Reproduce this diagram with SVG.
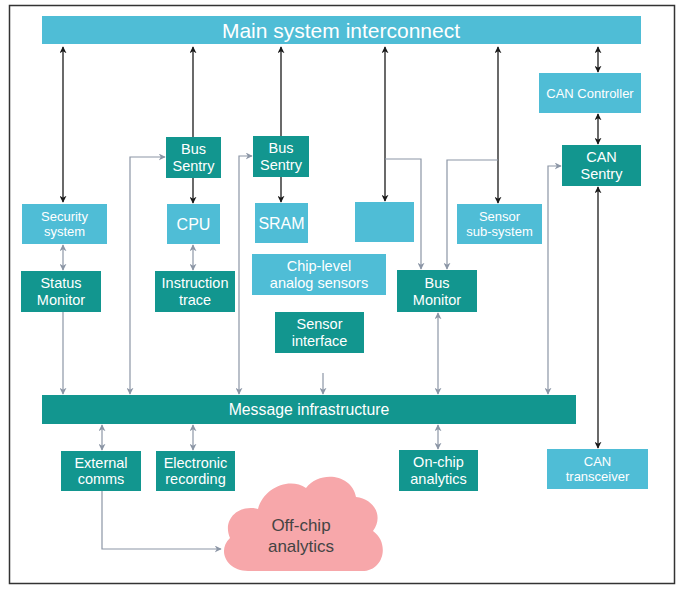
<svg xmlns="http://www.w3.org/2000/svg" width="681" height="591" viewBox="0 0 681 591">
<style>
.lb{fill:#4fbdd6}
.tl{fill:#12968f}
.t{font-family:"Liberation Sans",Arial,sans-serif;fill:#fff;text-anchor:middle}
.s13{font-size:13px}
.s14{font-size:14.5px}
.k{stroke:#1a1a1a;stroke-width:1.3;fill:none}
.g{stroke:#8c96a6;stroke-width:1.2;fill:none}
</style>
<defs>
<marker id="ak" viewBox="0 0 10 10" refX="9" refY="5" markerWidth="7" markerHeight="7" markerUnits="userSpaceOnUse" orient="auto-start-reverse"><path d="M0,0 L10,5 L0,10 L3,5 Z" fill="#1a1a1a"/></marker>
<marker id="ag" viewBox="0 0 10 10" refX="9" refY="5" markerWidth="7" markerHeight="7" markerUnits="userSpaceOnUse" orient="auto-start-reverse"><path d="M0,0 L10,5 L0,10 L3,5 Z" fill="#8c96a6"/></marker>
</defs>
<rect x="0" y="0" width="681" height="591" fill="#fff"/>
<rect x="9.5" y="5.5" width="665" height="578" fill="none" stroke="#333" stroke-width="1.5"/>

<g id="connectors">
<path class="k" d="M63,47 V202" marker-start="url(#ak)" marker-end="url(#ak)"/>
<path class="k" d="M193,47 V137" marker-start="url(#ak)"/>
<path class="k" d="M281,47 V136" marker-start="url(#ak)"/>
<path class="k" d="M385,47 V201" marker-start="url(#ak)" marker-end="url(#ak)"/>
<path class="k" d="M498,47 V203" marker-start="url(#ak)" marker-end="url(#ak)"/>
<path class="k" d="M598,47 V72" marker-start="url(#ak)" marker-end="url(#ak)"/>
<path class="k" d="M598,114 V144" marker-start="url(#ak)" marker-end="url(#ak)"/>
<path class="k" d="M598,187 V448" marker-start="url(#ak)" marker-end="url(#ak)"/>
<path class="k" d="M193,178 V203" marker-end="url(#ak)"/>
<path class="k" d="M281,177 V202" marker-end="url(#ak)"/>

<path class="g" d="M63,245 V270" marker-start="url(#ag)" marker-end="url(#ag)"/>
<path class="g" d="M63,312 V394" marker-end="url(#ag)"/>
<path class="g" d="M193,245 V270" marker-start="url(#ag)" marker-end="url(#ag)"/>
<path class="g" d="M130,394 V157 H165" marker-start="url(#ag)" marker-end="url(#ag)"/>
<path class="g" d="M239,394 V156 H252" marker-start="url(#ag)" marker-end="url(#ag)"/>
<path class="g" d="M323,373 V394" marker-end="url(#ag)"/>
<path class="g" d="M385,159 H421 V269" marker-end="url(#ag)"/>
<path class="g" d="M498,160 H447 V269" marker-end="url(#ag)"/>
<path class="g" d="M438,313 V394" marker-start="url(#ag)" marker-end="url(#ag)"/>
<path class="g" d="M548,394 V166 H561" marker-start="url(#ag)" marker-end="url(#ag)"/>
<path class="g" d="M102,425 V450" marker-start="url(#ag)" marker-end="url(#ag)"/>
<path class="g" d="M193,425 V450" marker-start="url(#ag)" marker-end="url(#ag)"/>
<path class="g" d="M438,425 V449" marker-start="url(#ag)" marker-end="url(#ag)"/>
<path class="g" d="M102,491 V549 H221" marker-end="url(#ag)"/>
</g>

<g id="main-interconnect"><rect class="lb" x="42" y="16" width="599" height="28"/><text class="t" x="341" y="37.5" font-size="21">Main system interconnect</text></g>
<g id="can-controller"><rect class="lb" x="539" y="73" width="102" height="40"/><text class="t s13" x="590" y="98">CAN Controller</text></g>
<g id="can-sentry"><rect class="tl" x="562" y="145" width="79" height="41"/><text class="t s14" x="601.5" y="162">CAN</text><text class="t s14" x="601.5" y="179">Sentry</text></g>
<g id="bus-sentry-1"><rect class="tl" x="166" y="137" width="55" height="41"/><text class="t s14" x="193.5" y="154">Bus</text><text class="t s14" x="193.5" y="171">Sentry</text></g>
<g id="bus-sentry-2"><rect class="tl" x="253" y="136" width="56" height="41"/><text class="t s14" x="281" y="153">Bus</text><text class="t s14" x="281" y="170">Sentry</text></g>
<g id="security-system"><rect class="lb" x="22" y="204" width="85" height="40"/><text class="t s13" x="64.5" y="221">Security</text><text class="t s13" x="64.5" y="236">system</text></g>
<g id="cpu"><rect class="lb" x="167" y="204" width="53" height="40"/><text class="t" x="193.5" y="230" font-size="16">CPU</text></g>
<g id="sram"><rect class="lb" x="255" y="203" width="53" height="40"/><text class="t" x="281.5" y="229" font-size="16">SRAM</text></g>
<g id="blank"><rect class="lb" x="355" y="202" width="59" height="40"/></g>
<g id="sensor-sub-system"><rect class="lb" x="457" y="204" width="85" height="40"/><text class="t s13" x="499.5" y="221">Sensor</text><text class="t s13" x="499.5" y="236">sub-system</text></g>
<g id="chip-level-analog-sensors"><rect class="lb" x="252" y="254" width="134" height="41"/><text class="t s14" x="319" y="271">Chip-level</text><text class="t s14" x="319" y="288">analog sensors</text></g>
<g id="status-monitor"><rect class="tl" x="21" y="271" width="80" height="41"/><text class="t s14" x="61" y="288">Status</text><text class="t s14" x="61" y="305">Monitor</text></g>
<g id="instruction-trace"><rect class="tl" x="155" y="271" width="80" height="41"/><text class="t s14" x="195" y="288">Instruction</text><text class="t s14" x="195" y="305">trace</text></g>
<g id="bus-monitor"><rect class="tl" x="397" y="270" width="80" height="42"/><text class="t s14" x="437" y="288">Bus</text><text class="t s14" x="437" y="305">Monitor</text></g>
<g id="sensor-interface"><rect class="tl" x="275" y="312" width="89" height="41"/><text class="t s14" x="319.5" y="329">Sensor</text><text class="t s14" x="319.5" y="346">interface</text></g>
<g id="message-infrastructure"><rect class="tl" x="42" y="395" width="534" height="29"/><text class="t" x="309" y="415" font-size="15.8">Message infrastructure</text></g>
<g id="external-comms"><rect class="tl" x="61" y="451" width="80" height="40"/><text class="t s14" x="101" y="468">External</text><text class="t s14" x="101" y="484">comms</text></g>
<g id="electronic-recording"><rect class="tl" x="156" y="451" width="79" height="40"/><text class="t s14" x="195.5" y="468">Electronic</text><text class="t s14" x="195.5" y="484">recording</text></g>
<g id="on-chip-analytics"><rect class="tl" x="399" y="450" width="79" height="41"/><text class="t s14" x="438.5" y="467">On-chip</text><text class="t s14" x="438.5" y="484">analytics</text></g>
<g id="can-transceiver"><rect class="lb" x="547" y="449" width="101" height="40"/><text class="t s13" x="597.5" y="466">CAN</text><text class="t s13" x="597.5" y="481">transceiver</text></g>
<g id="off-chip-analytics">
<path d="M248,571 C226,571 217,550 230,538 C222,520 238,504 258,509 C264,487 290,477 306,488 C320,470 352,474 356,497 C374,499 384,516 373,531 C390,543 384,571 362,571 Z" fill="#f7a7aa"/>
<text x="301" y="531" font-family="'Liberation Sans',Arial,sans-serif" font-size="17" fill="#444" text-anchor="middle">Off-chip</text>
<text x="301" y="552" font-family="'Liberation Sans',Arial,sans-serif" font-size="17" fill="#444" text-anchor="middle">analytics</text>
</g>
</svg>
